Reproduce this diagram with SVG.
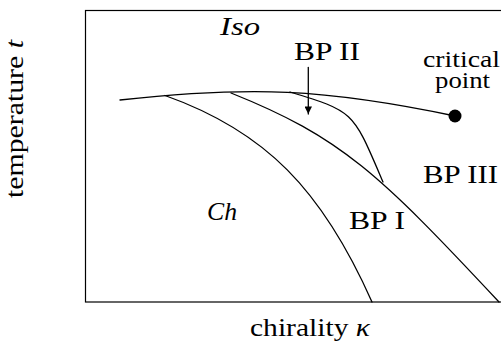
<svg xmlns="http://www.w3.org/2000/svg" width="501" height="341" viewBox="0 0 501 341">
<style>
.ln{fill:none;stroke:#000;stroke-width:1.3;stroke-linecap:round}
.lb{font-family:"Liberation Serif","DejaVu Serif",serif;font-size:26px;fill:#000}
.sm{font-size:24px}
.it{font-style:italic}
</style>
<defs>
<marker id="ah" viewBox="0 0 10 10" refX="10" refY="5" markerWidth="11" markerHeight="7.5" markerUnits="userSpaceOnUse" orient="auto">
<path d="M0,0 L10,5 L0,10 Z" fill="#000"/>
</marker>
</defs>
<rect width="501" height="341" fill="#fff"/>
<g id="frame">
<rect x="85.5" y="10.5" width="430" height="291.5" fill="none" stroke="#000" stroke-width="1.2"/>
</g>
<g id="connectors">
<path id="top-curve" class="ln" d="M120,100 C250,85.7 325,88.7 455,116"/>
<path id="ch-bp1" class="ln" d="M165,95.5 C265,131 322,189.5 372,302"/>
<path id="bp1-bp3" class="ln" d="M231,93 C341,137 379,173.6 499,302"/>
<path id="bp2-bp3" class="ln" d="M290,92 C355,111.5 353,111.8 383,182"/>
<line id="arrow" class="ln" x1="308.3" y1="67.5" x2="308.3" y2="114" marker-end="url(#ah)"/>
</g>
<g id="critical-point">
<circle cx="455" cy="116" r="6.5" fill="#000"/>
<text class="lb sm" x="423" y="67" textLength="77" lengthAdjust="spacingAndGlyphs">critical</text>
<text class="lb sm" x="435" y="88" textLength="55" lengthAdjust="spacingAndGlyphs">point</text>
</g>
<g id="iso"><text class="lb it" x="220" y="35" textLength="40" lengthAdjust="spacingAndGlyphs">Iso</text></g>
<g id="bp2"><text class="lb" x="294" y="60" textLength="66" lengthAdjust="spacingAndGlyphs">BP II</text></g>
<g id="bp3"><text class="lb" x="423" y="183" textLength="75" lengthAdjust="spacingAndGlyphs">BP III</text></g>
<g id="bp1"><text class="lb" x="349" y="229" textLength="56" lengthAdjust="spacingAndGlyphs">BP I</text></g>
<g id="ch"><text class="lb it" x="207" y="220" textLength="30" lengthAdjust="spacingAndGlyphs">Ch</text></g>
<g id="x-axis"><text class="lb" x="250" y="336" textLength="120" lengthAdjust="spacingAndGlyphs">chirality <tspan class="it">κ</tspan></text></g>
<g id="y-axis"><text class="lb" transform="translate(23,198) rotate(-90)" x="0" y="0" textLength="158" lengthAdjust="spacingAndGlyphs">temperature <tspan class="it">t</tspan></text></g>
</svg>
